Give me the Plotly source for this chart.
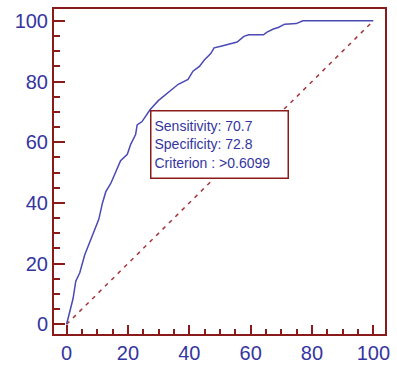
import plotly.graph_objects as go

# ROC curve: 100-Specificity (x) vs Sensitivity (y)
fpr = [0, 1.1, 2.1, 3.0, 4.3, 5.9, 7.5, 9.1, 10.5, 11.7, 12.8, 14.4, 16.0, 17.6,
       19.8, 20.9, 22.5, 23.0, 24.6, 26.7, 27.2, 29.9, 33.2, 36.4, 39.6, 41.2,
       43.3, 44.9, 47.0, 48.1, 50.3, 53.5, 55.6, 57.8, 59.4, 64.2, 65.2, 67.4,
       69.0, 71.1, 74.9, 77.0, 100]
tpr = [0, 4.6, 8.4, 14.2, 17.0, 22.8, 27.1, 31.5, 34.6, 40.0, 43.7, 46.4, 50.2, 53.9,
       56.0, 59.3, 62.5, 65.7, 66.8, 70.0, 70.7, 73.7, 76.4, 79.1, 80.7, 83.4,
       85.0, 87.1, 89.2, 91.1, 91.6, 92.4, 93.0, 94.9, 95.4, 95.4, 96.2, 97.3,
       97.8, 98.9, 99.1, 100, 100]
diag_x = [0, 100]
diag_y = [0, 100]
tick_vals = [0, 20, 40, 60, 80, 100]
tick_text = ["0", "20", "40", "60", "80", "100"]
sens, spec, crit = 70.7, 72.8, ">0.6099"

frame = "#8B1A1A"
blue = "#3535A0"

fig = go.Figure()
fig.add_trace(go.Scatter(x=diag_x, y=diag_y, mode="lines",
                         line=dict(color="#A3343C", width=1.5, dash="4px,5px"),
                         hoverinfo="skip"))
fig.add_trace(go.Scatter(x=fpr, y=tpr, mode="lines",
                         line=dict(color="#4A4AB5", width=1.5),
                         hoverinfo="skip"))

fig.add_annotation(x=100 - spec, y=sens, xref="x", yref="y",
                   xanchor="left", yanchor="top", showarrow=False,
                   text=f"Sensitivity: {sens}<br>Specificity: {spec}<br>Criterion : {crit}",
                   align="left", width=130, height=60, borderpad=3,
                   bordercolor=frame, borderwidth=1.5, bgcolor="white",
                   font=dict(family="Liberation Sans, Arial", size=14, color=blue))

axis_common = dict(showline=True, linecolor=frame, linewidth=2, mirror=True,
                   showgrid=False, zeroline=False, ticks="inside",
                   tickcolor=frame, tickwidth=2,
                   tickvals=tick_vals, ticktext=tick_text,
                   tickfont=dict(family="Liberation Sans, Arial", size=20, color=blue))

fig.update_xaxes(range=[-4.1, 103.8], ticklen=9,
                 minor=dict(ticks="inside", ticklen=5, dtick=5, tick0=0,
                            tickcolor=frame, tickwidth=1.5, showgrid=False),
                 **axis_common)
fig.update_yaxes(range=[-3.2, 103.9], ticklen=11,
                 minor=dict(ticks="inside", ticklen=6, dtick=5, tick0=0,
                            tickcolor=frame, tickwidth=1.5, showgrid=False),
                 **axis_common)

fig.update_layout(width=397, height=371, showlegend=False,
                  margin=dict(l=54, r=7, t=8, b=30),
                  plot_bgcolor="white", paper_bgcolor="white")

fig.write_html("out.html")
